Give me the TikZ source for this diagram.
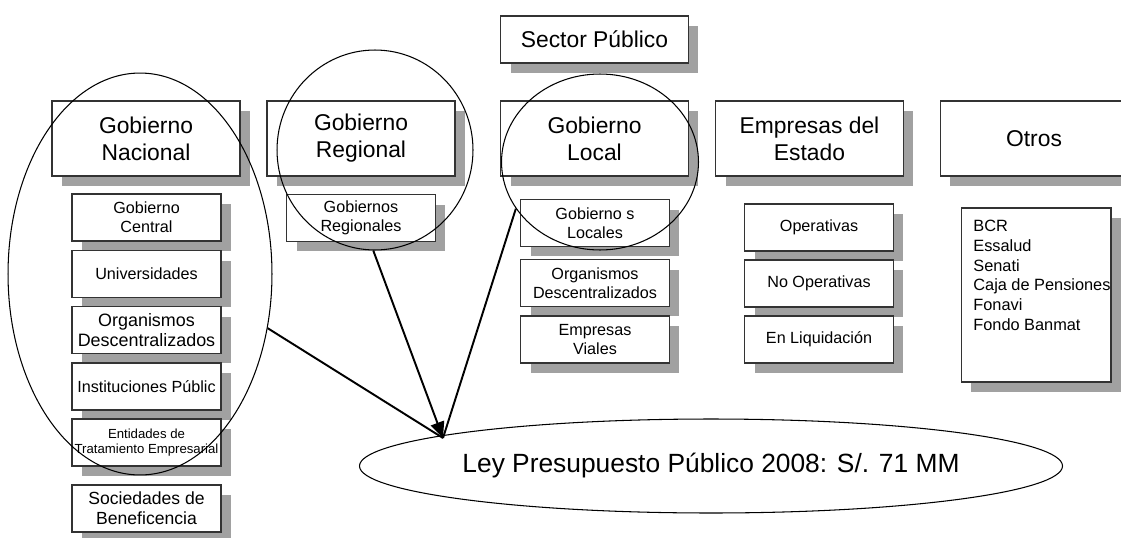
\documentclass[tikz,border=0pt]{standalone}
\usepackage{fontspec}
\setmainfont{Liberation Sans}
\usetikzlibrary{shapes.geometric,shadows,arrows.meta}

\tikzset{
  headbox/.style={draw=black!80, fill=white, line width=0.6pt, align=center,
    minimum width=3.76cm, minimum height=1.5cm, inner sep=1pt,
    font=\fontsize{13}{15.3}\selectfont,
    drop shadow={shadow xshift=0.2cm, shadow yshift=-0.2cm, fill=black!37, opacity=1}},
  subbox/.style={headbox, minimum width=2.98cm, minimum height=0.94cm,
    font=\fontsize{9.2}{11}\selectfont},
  ring/.style={draw, ellipse, line width=0.6pt, inner sep=0pt},
  link/.style={line width=1.1pt}
}

\begin{document}
\begin{tikzpicture}[x=0.02cm, y=-0.02cm]
  \useasboundingbox (0,0) rectangle (1121,537);
  \clip (0,0) rectangle (1121,537);

  \node[headbox, minimum height=0.94cm] (sector) at (594.5,39.5) {Sector Público};

  \node[headbox] (nacional) at (146,138.5) {Gobierno\\Nacional};
  \node[headbox] (regional) at (361,138.5) {Gobierno\\Regional};
  \node[headbox] (local) at (594.5,138.5) {Gobierno\\Local};
  \node[headbox] (empresas) at (809.5,138.5) {Empresas del\\Estado};
  \node[headbox] (otros) at (1034,138.5) {Otros};

  % gobierno nacional
  \node[subbox] (central) at (146.5,217.5) {Gobierno\\Central};
  \node[subbox] (univ) at (146.5,274) {Universidades};
  \node[subbox, font=\fontsize{10.2}{11.5}\selectfont] (orgnac) at (146.5,330) {Organismos\\Descentralizados};
  \node[subbox] (instit) at (146.5,386.5) {Instituciones Públic};
  \node[subbox, font=\fontsize{7.5}{9}\selectfont] (entidades) at (146.5,442.5) {Entidades de\\Tratamiento Empresarial};
  \node[subbox, font=\fontsize{10}{11.5}\selectfont] (sociedades) at (146.5,508.5) {Sociedades de\\Beneficencia};

  % gobierno regional y local
  \node[subbox] (gobregs) at (361,218) {Gobiernos\\Regionales};
  \node[subbox] (goblocs) at (595,223) {Gobierno s\\Locales};
  \node[subbox] (orgloc) at (595,283) {Organismos\\Descentralizados};
  \node[subbox] (viales) at (595,339.5) {Empresas\\Viales};

  % empresas y otros
  \node[subbox] (operativas) at (819,227.5) {Operativas};
  \node[subbox] (nooperativas) at (819,283.5) {No Operativas};
  \node[subbox] (liquidacion) at (819,339.5) {En Liquidación};
  \node[subbox, minimum width=3cm, minimum height=3.48cm] (otroslist) at (1036,295) {};
  \node[anchor=north west, align=left, inner sep=0pt, font=\fontsize{9.3}{11.2}\selectfont] (otrositems) at (973,220)
    {BCR\\Essalud\\Senati\\Caja de Pensiones\\Fonavi\\Fondo Banmat};

  % rings and budget
  \node[ring, minimum width=5.28cm, minimum height=8.04cm] (ringnac) at (140,274) {};
  \node[ring, minimum width=3.92cm, minimum height=4cm] (ringreg) at (375,150) {};
  \node[ring, minimum width=3.94cm, minimum height=3.52cm] (ringloc) at (600,162) {};
  \node[ring, minimum width=12.52cm, minimum height=1.88cm, font=\fontsize{15}{18}\selectfont] (presupuesto) at (711,466)
    {Ley Presupuesto Público 2008: S/. 71 MM};

  \coordinate (meet) at (443,438);
  \draw[link] (ringnac.-23) -- (meet);
  \draw[link] (ringloc.-151) -- (meet);
  \draw[link, -{Triangle[length=0.32cm, width=0.28cm]}] (ringreg.-91) -- (meet);
\end{tikzpicture}
\end{document}
